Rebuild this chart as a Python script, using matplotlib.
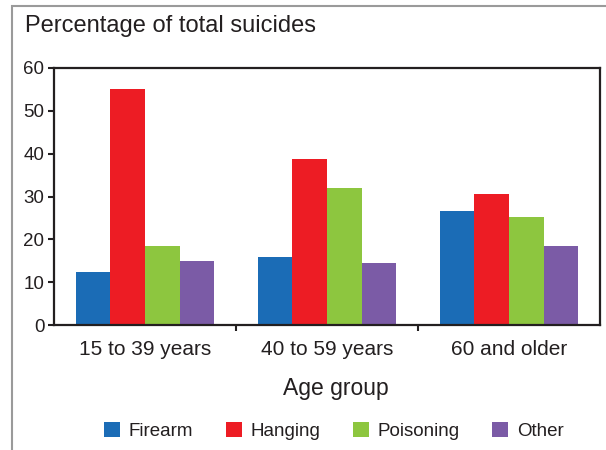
import numpy as np
import matplotlib
matplotlib.use("Agg")
import matplotlib.pyplot as plt
from matplotlib.patches import Rectangle

plt.rcParams['font.family'] = ['Liberation Sans', 'DejaVu Sans']

AGE_GROUPS = ["15 to 39 years", "40 to 59 years", "60 and older"]
METHODS = ["Firearm", "Hanging", "Poisoning", "Other"]
firearm = [12.4, 15.9, 26.6]
hanging = [55.1, 38.8, 30.6]
poisoning = [18.5, 32.0, 25.2]
other = [15.0, 14.5, 18.5]
COLORS = ["#1b6cb6", "#ed1c24", "#8dc63f", "#7b5ba6"]
TEXT = "#231f20"

fig = plt.figure(figsize=(6.06, 4.5), dpi=100)

# grey frame round the chart (left and top edges visible)
fig.patches.append(Rectangle((12 / 606, -0.1), 1.0, (450 - 6) / 450 + 0.1,
                             transform=fig.transFigure, fill=False,
                             edgecolor="#9a9a9a", linewidth=1.5))

ax = fig.add_axes([54 / 606, 1 - 325 / 450, 546 / 606, 257 / 450])

series = [firearm, hanging, poisoning, other]
x = np.arange(len(AGE_GROUPS))
w = 0.19
for i, (vals, name) in enumerate(zip(series, METHODS)):
    ax.bar(x + (i - 1.5) * w, vals, w, color=COLORS[i], label=name, linewidth=0)

ax.set_xlim(-0.5, 2.5)
ax.set_ylim(0, 60)
ax.set_yticks(range(0, 61, 10))
ax.set_xticks([0.5, 1.5])
ax.set_xticklabels([])
ax.set_xticks(x, minor=True)
ax.set_xticklabels(AGE_GROUPS, minor=True, fontsize=15, color=TEXT)
ax.tick_params(axis="x", which="minor", length=0, pad=11)
ax.tick_params(axis="x", which="major", length=4, width=1.5, color=TEXT, direction="out")
ax.tick_params(axis="y", length=4, width=1.5, color=TEXT, direction="out",
               labelsize=13.5, labelcolor=TEXT, pad=3)
for s in ax.spines.values():
    s.set_linewidth(1.6)
    s.set_color(TEXT)

fig.text(25 / 606, 1 - 26 / 450, "Percentage of total suicides", fontsize=17,
         color=TEXT, va="center", ha="left")
fig.text(336 / 606, 1 - 388 / 450, "Age group", fontsize=16.5, color=TEXT,
         va="center", ha="center")

fig.legend(loc="center", bbox_to_anchor=(334 / 606, 1 - 431 / 450), ncol=4,
           frameon=False, fontsize=13.5, handlelength=0.85, handleheight=0.85,
           columnspacing=1.75, handletextpad=0.45, labelcolor=TEXT)

fig.savefig("out.png", dpi=100)
